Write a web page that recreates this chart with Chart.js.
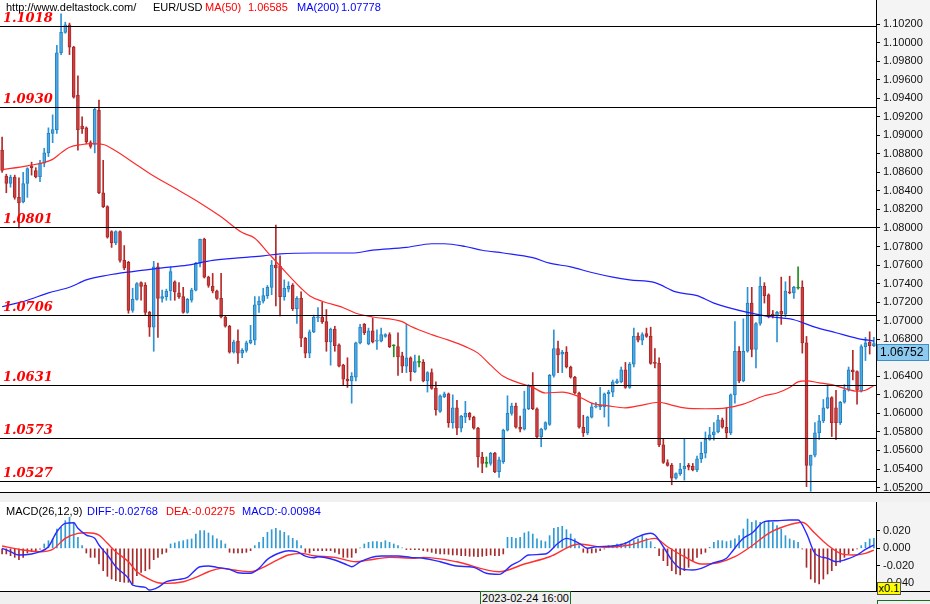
<!DOCTYPE html>
<html><head><meta charset="utf-8">
<script src="https://cdn.jsdelivr.net/npm/chart.js@4.4.1/dist/chart.umd.min.js"></script>
<style>
html,body{margin:0;padding:0;background:#f0f0f0;width:930px;height:604px;overflow:hidden;position:relative;font-family:"Liberation Sans",Arial,sans-serif;}
canvas{position:absolute;left:0;}
#main{top:0;}
#macd{top:502px;}
.t{position:absolute;font-size:11px;line-height:13px;white-space:nowrap;}
.hl{position:absolute;left:0;width:930px;height:1px;background:#000;}
</style></head><body>
<canvas id="main" width="930" height="492"></canvas>
<canvas id="macd" width="930" height="89"></canvas>
<div class="hl" style="top:492px"></div>
<div class="hl" style="top:591px"></div>
<div class="t" style="left:6px;top:1px;color:#000">http://www.deltastock.com/</div>
<div class="t" style="left:153px;top:1px;color:#000">EUR/USD</div>
<div class="t" style="left:205px;top:1px;color:#ff0000">MA(50)</div>
<div class="t" style="left:248px;top:1px;color:#ff0000">1.06585</div>
<div class="t" style="left:297px;top:1px;color:#0000ff">MA(200)</div>
<div class="t" style="left:341px;top:1px;color:#0000ff">1.07778</div>
<div class="t" style="left:6px;top:505px;color:#000">MACD(26,12,9)</div>
<div class="t" style="left:87px;top:505px;color:#0000ff">DIFF:-0.02768</div>
<div class="t" style="left:166px;top:505px;color:#ff0000">DEA:-0.02275</div>
<div class="t" style="left:242px;top:505px;color:#0000ff">MACD:-0.00984</div>
<div class="t" style="left:480px;top:591px;width:89px;height:14px;border:1px solid #1d6b1d;background:#f0f0f0;text-align:center;line-height:13px;color:#000">2023-02-24 16:00</div>
<div class="t" style="left:877px;top:582px;width:22px;height:11px;border:1px solid #555;background:#ffff00;text-align:center;line-height:11px;color:#000">x0.1</div>
<div class="t" style="left:877px;top:600px;width:52px;height:10px;border:1px solid #1d6b1d;background:#f0f0f0;"></div>
<script>
// ---- candles (EUR/USD, H4) ----
const opens = [1.0884,1.0856,1.0848,1.0855,1.0833,1.0828,1.0848,1.0867,1.0862,1.0855,1.0870,1.0881,1.0902,1.0906,1.0989,1.1011,1.1019,1.0995,1.0943,1.0910,1.0908,1.0892,1.0890,1.0927,1.0838,1.0823,1.0796,1.0784,1.0796,1.0765,1.0763,1.0711,1.0723,1.0741,1.0738,1.0709,1.0693,1.0758,1.0724,1.0726,1.0732,1.0742,1.0730,1.0726,1.0709,1.0722,1.0733,1.0762,1.0788,1.0747,1.0737,1.0732,1.0724,1.0704,1.0694,1.0666,1.0678,1.0665,1.0668,1.0676,1.0679,1.0717,1.0721,1.0727,1.0736,1.0760,1.0759,1.0726,1.0734,1.0738,1.0713,1.0724,1.0681,1.0665,1.0688,1.0703,1.0704,1.0699,1.0677,1.0691,1.0674,1.0652,1.0637,1.0635,1.0639,1.0676,1.0696,1.0675,1.0689,1.0678,1.0678,1.0683,1.0685,1.0673,1.0672,1.0662,1.0651,1.0660,1.0645,1.0655,1.0655,1.0635,1.0644,1.0627,1.0602,1.0618,1.0621,1.0590,1.0606,1.0584,1.0596,1.0600,1.0596,1.0584,1.0553,1.0546,1.0546,1.0557,1.0537,1.0548,1.0582,1.0600,1.0608,1.0585,1.0583,1.0605,1.0630,1.0605,1.0575,1.0583,1.0588,1.0641,1.0670,1.0664,1.0666,1.0650,1.0639,1.0622,1.0585,1.0579,1.0596,1.0607,1.0607,1.0607,1.0621,1.0623,1.0633,1.0634,1.0647,1.0628,1.0653,1.0683,1.0679,1.0686,1.0683,1.0655,1.0654,1.0566,1.0547,1.0544,1.0530,1.0535,1.0540,1.0544,1.0543,1.0539,1.0551,1.0557,1.0572,1.0577,1.0580,1.0593,1.0585,1.0579,1.0620,1.0667,1.0635,1.0667,1.0719,1.0669,1.0697,1.0737,1.0728,1.0707,1.0705,1.0710,1.0707,1.0731,1.0730,1.0735,1.0736,1.0676,1.0544,1.0555,1.0579,1.0592,1.0606,1.0617,1.0606,1.0590,1.0612,1.0625,1.0647,1.0645,1.0624,1.0672,1.0677,1.0673];
const highs = [1.0898,1.0858,1.0857,1.0857,1.0854,1.0860,1.0865,1.0871,1.0865,1.0873,1.0886,1.0908,1.0922,1.0997,1.1031,1.1022,1.1021,1.0996,1.0964,1.0920,1.0909,1.0894,1.0929,1.0938,1.0873,1.0824,1.0797,1.0797,1.0797,1.0781,1.0764,1.0735,1.0741,1.0742,1.0741,1.0710,1.0764,1.0762,1.0733,1.0734,1.0758,1.0743,1.0741,1.0736,1.0724,1.0735,1.0763,1.0788,1.0789,1.0748,1.0751,1.0733,1.0751,1.0705,1.0695,1.0679,1.0690,1.0670,1.0678,1.0695,1.0726,1.0726,1.0735,1.0738,1.0765,1.0803,1.0770,1.0744,1.0742,1.0740,1.0726,1.0731,1.0682,1.0690,1.0706,1.0714,1.0720,1.0712,1.0692,1.0694,1.0675,1.0653,1.0660,1.0644,1.0677,1.0696,1.0697,1.0692,1.0703,1.0690,1.0692,1.0686,1.0687,1.0674,1.0687,1.0666,1.0696,1.0661,1.0663,1.0662,1.0658,1.0645,1.0648,1.0634,1.0620,1.0623,1.0622,1.0620,1.0614,1.0598,1.0613,1.0601,1.0597,1.0585,1.0558,1.0553,1.0558,1.0558,1.0553,1.0583,1.0619,1.0611,1.0611,1.0597,1.0624,1.0631,1.0644,1.0606,1.0584,1.0591,1.0642,1.0690,1.0678,1.0668,1.0672,1.0651,1.0640,1.0623,1.0598,1.0597,1.0611,1.0612,1.0628,1.0622,1.0625,1.0636,1.0637,1.0650,1.0655,1.0655,1.0692,1.0687,1.0687,1.0692,1.0693,1.0670,1.0660,1.0573,1.0550,1.0546,1.0536,1.0546,1.0573,1.0546,1.0546,1.0554,1.0569,1.0580,1.0585,1.0590,1.0598,1.0595,1.0606,1.0621,1.0699,1.0672,1.0702,1.0736,1.0736,1.0698,1.0747,1.0741,1.0729,1.0711,1.0710,1.0747,1.0742,1.0748,1.0737,1.0758,1.0743,1.0683,1.0555,1.0590,1.0598,1.0615,1.0631,1.0618,1.0625,1.0613,1.0631,1.0650,1.0668,1.0646,1.0674,1.0682,1.0688,1.0682];
const lows = [1.0860,1.0838,1.0844,1.0831,1.0800,1.0827,1.0833,1.0857,1.0854,1.0850,1.0866,1.0877,1.0892,1.0902,1.0987,1.1010,1.0987,1.0940,1.0884,1.0902,1.0891,1.0886,1.0881,1.0837,1.0822,1.0789,1.0779,1.0782,1.0763,1.0755,1.0708,1.0709,1.0722,1.0722,1.0706,1.0683,1.0667,1.0682,1.0720,1.0722,1.0722,1.0722,1.0724,1.0708,1.0708,1.0720,1.0732,1.0758,1.0746,1.0736,1.0730,1.0723,1.0703,1.0693,1.0665,1.0665,1.0654,1.0660,1.0666,1.0675,1.0674,1.0709,1.0719,1.0724,1.0728,1.0716,1.0705,1.0722,1.0731,1.0711,1.0697,1.0672,1.0660,1.0660,1.0687,1.0699,1.0697,1.0667,1.0652,1.0667,1.0650,1.0631,1.0628,1.0611,1.0635,1.0675,1.0685,1.0674,1.0676,1.0669,1.0677,1.0682,1.0671,1.0661,1.0641,1.0644,1.0644,1.0635,1.0644,1.0650,1.0634,1.0623,1.0626,1.0598,1.0601,1.0617,1.0585,1.0584,1.0577,1.0580,1.0590,1.0593,1.0583,1.0542,1.0536,1.0542,1.0544,1.0536,1.0531,1.0546,1.0581,1.0598,1.0584,1.0580,1.0582,1.0604,1.0604,1.0573,1.0564,1.0582,1.0587,1.0639,1.0644,1.0644,1.0649,1.0638,1.0621,1.0584,1.0575,1.0577,1.0595,1.0606,1.0604,1.0596,1.0586,1.0618,1.0632,1.0633,1.0627,1.0627,1.0650,1.0677,1.0674,1.0682,1.0653,1.0649,1.0564,1.0546,1.0543,1.0523,1.0529,1.0533,1.0528,1.0539,1.0538,1.0537,1.0547,1.0552,1.0571,1.0571,1.0579,1.0584,1.0573,1.0577,1.0611,1.0633,1.0634,1.0666,1.0661,1.0649,1.0695,1.0719,1.0703,1.0703,1.0677,1.0696,1.0704,1.0729,1.0724,1.0734,1.0665,1.0521,1.0516,1.0553,1.0572,1.0590,1.0605,1.0575,1.0572,1.0588,1.0611,1.0624,1.0636,1.0610,1.0623,1.0657,1.0664,1.0672];
const closes = [1.0862,1.0848,1.0855,1.0833,1.0827,1.0848,1.0864,1.0865,1.0855,1.0870,1.0881,1.0902,1.0906,1.0989,1.1011,1.1019,1.0995,1.0941,1.0906,1.0907,1.0893,1.0888,1.0928,1.0838,1.0823,1.0790,1.0784,1.0796,1.0765,1.0757,1.0711,1.0723,1.0740,1.0737,1.0709,1.0693,1.0758,1.0724,1.0726,1.0732,1.0753,1.0731,1.0726,1.0709,1.0723,1.0733,1.0762,1.0788,1.0747,1.0738,1.0732,1.0724,1.0704,1.0694,1.0666,1.0677,1.0665,1.0668,1.0676,1.0679,1.0717,1.0721,1.0727,1.0736,1.0760,1.0757,1.0726,1.0735,1.0737,1.0713,1.0724,1.0681,1.0665,1.0688,1.0704,1.0704,1.0699,1.0677,1.0691,1.0673,1.0651,1.0637,1.0635,1.0640,1.0676,1.0693,1.0687,1.0689,1.0677,1.0679,1.0685,1.0685,1.0672,1.0673,1.0661,1.0651,1.0660,1.0645,1.0656,1.0655,1.0635,1.0644,1.0627,1.0604,1.0619,1.0621,1.0590,1.0606,1.0584,1.0597,1.0600,1.0596,1.0584,1.0553,1.0546,1.0546,1.0557,1.0537,1.0550,1.0582,1.0600,1.0608,1.0585,1.0583,1.0605,1.0630,1.0605,1.0575,1.0583,1.0590,1.0641,1.0670,1.0663,1.0666,1.0650,1.0639,1.0622,1.0585,1.0579,1.0596,1.0607,1.0608,1.0609,1.0621,1.0623,1.0634,1.0635,1.0647,1.0628,1.0653,1.0683,1.0679,1.0685,1.0683,1.0654,1.0654,1.0566,1.0547,1.0544,1.0530,1.0535,1.0540,1.0543,1.0542,1.0539,1.0551,1.0557,1.0572,1.0577,1.0580,1.0593,1.0585,1.0579,1.0620,1.0667,1.0635,1.0667,1.0719,1.0669,1.0697,1.0737,1.0727,1.0704,1.0705,1.0709,1.0707,1.0732,1.0730,1.0736,1.0735,1.0676,1.0544,1.0555,1.0579,1.0592,1.0606,1.0617,1.0590,1.0590,1.0612,1.0625,1.0647,1.0645,1.0625,1.0672,1.0676,1.0673,1.06752];

// ---- moving averages (read at sample bars) ----
const ma50Idx = [0,6,12,14,16,19,21,24,27,32,36,41,47,52,57,60,63,66,71,73,76,81,84,88,95,97,102,106,110,113,116,119,122,126,129,133,137,140,144,148,151,156,159,162,167,172,176,181,184,187,189,191,194,197,200,203,205,207];
const ma50Val = [1.0863,1.0867,1.0874,1.0881,1.0887,1.0890,1.0891,1.0890,1.0883,1.0868,1.0856,1.0843,1.0827,1.0812,1.0795,1.0789,1.0774,1.0759,1.0735,1.0727,1.0721,1.0714,1.0708,1.0704,1.0699,1.0694,1.0685,1.0679,1.0672,1.0665,1.0652,1.0640,1.0634,1.0628,1.0622,1.0623,1.0618,1.0611,1.0608,1.0606,1.0608,1.0612,1.0609,1.0606,1.0605,1.0606,1.0610,1.0619,1.0622,1.0628,1.0634,1.0635,1.0633,1.0631,1.0627,1.0624,1.0625,1.0630];
const ma200Idx = [0,6,11,16,20,25,31,38,44,50,57,62,66,74,83,88,96,102,105,110,114,119,126,130,135,140,145,149,155,160,165,169,177,183,188,193,198,203,207];
const ma200Val = [1.0715,1.0722,1.0730,1.0736,1.0744,1.0749,1.0753,1.0757,1.0760,1.0765,1.0768,1.0770,1.0772,1.0773,1.0773,1.0776,1.0779,1.0783,1.0783,1.0780,1.0776,1.0773,1.0768,1.0762,1.0758,1.0752,1.0747,1.0744,1.0741,1.0731,1.0727,1.0719,1.0709,1.0704,1.0701,1.0693,1.0687,1.0681,1.0678];

// ---- support / resistance levels ----
const levels = [1.1018,1.0930,1.0801,1.0706,1.0631,1.0573,1.0527];
const lastPrice = 1.06752;
const priceTicks = [1.102,1.100,1.098,1.096,1.094,1.092,1.090,1.088,1.086,1.084,1.082,1.080,1.078,1.076,1.074,1.072,1.070,1.068,1.066,1.064,1.062,1.060,1.058,1.056,1.054,1.052];

// ---- MACD(26,12,9) ----
const macdHist = [-0.0065,-0.0065,-0.0085,-0.0104,-0.0131,-0.0104,-0.0054,-0.0038,-0.0038,-0.0010,0.0050,0.0088,0.0108,0.0223,0.0242,0.0319,0.0358,0.0300,0.0127,0.0031,-0.0054,-0.0104,-0.0104,-0.0181,-0.0258,-0.0323,-0.0354,-0.0373,-0.0384,-0.0392,-0.0392,-0.0411,-0.0315,-0.0277,-0.0258,-0.0238,-0.0131,-0.0104,-0.0065,-0.0046,0.0050,0.0062,0.0077,0.0088,0.0100,0.0108,0.0165,0.0204,0.0204,0.0177,0.0146,0.0108,0.0088,0.0050,-0.0046,-0.0054,-0.0054,-0.0054,-0.0046,-0.0027,0.0031,0.0069,0.0127,0.0185,0.0215,0.0231,0.0204,0.0185,0.0146,0.0115,0.0088,0.0031,-0.0046,-0.0054,-0.0027,-0.0027,-0.0027,-0.0027,-0.0027,-0.0046,-0.0065,-0.0104,-0.0104,-0.0104,-0.0054,0.0005,0.0050,0.0069,0.0077,0.0077,0.0069,0.0088,0.0069,0.0050,0.0031,0.0005,-0.0015,-0.0015,-0.0015,-0.0015,-0.0027,-0.0035,-0.0046,-0.0058,-0.0065,-0.0065,-0.0069,-0.0077,-0.0077,-0.0085,-0.0085,-0.0092,-0.0092,-0.0096,-0.0092,-0.0085,-0.0077,-0.0085,-0.0085,-0.0065,0.0127,0.0127,0.0115,0.0127,0.0177,0.0192,0.0165,0.0108,0.0088,0.0077,0.0146,0.0231,0.0242,0.0254,0.0215,0.0165,0.0108,0.0031,-0.0046,-0.0054,-0.0054,-0.0046,-0.0027,-0.0008,0.0031,0.0031,0.0050,0.0050,0.0069,0.0077,0.0088,0.0108,0.0146,0.0115,0.0077,0.0012,-0.0085,-0.0142,-0.0200,-0.0258,-0.0296,-0.0308,-0.0258,-0.0219,-0.0142,-0.0104,-0.0065,-0.0046,0.0012,0.0069,0.0088,0.0088,0.0077,0.0088,0.0108,0.0146,0.0223,0.0338,0.0300,0.0319,0.0300,0.0300,0.0319,0.0300,0.0261,0.0223,0.0146,0.0108,0.0088,0.0069,-0.0008,-0.0219,-0.0354,-0.0392,-0.0411,-0.0354,-0.0296,-0.0258,-0.0200,-0.0161,-0.0104,-0.0065,-0.0027,-0.0008,0.0031,0.0069,0.0108,0.0115];
const diffIdx = [0,2,4,7,9,11,13,15,17,18,20,22,23,25,27,30,31,34,35,37,39,42,44,47,49,51,54,56,59,61,63,66,68,70,72,74,75,79,82,83,85,87,90,94,97,100,104,108,112,115,118,121,123,125,129,132,134,137,139,141,145,148,151,154,155,157,159,161,164,166,169,172,173,176,178,181,184,187,189,191,193,196,198,200,203,205,207];
const diffVal = [0,-0.0039,-0.0077,-0.0066,-0.0039,0.0018,0.0191,0.0288,0.0295,0.0231,0.0153,0.0115,0.0038,-0.0077,-0.0212,-0.0346,-0.0424,-0.0450,-0.0481,-0.0450,-0.0385,-0.0358,-0.0334,-0.0212,-0.0204,-0.0219,-0.0242,-0.0281,-0.0288,-0.0231,-0.0127,-0.0051,-0.0028,-0.0039,-0.0089,-0.0108,-0.0097,-0.0135,-0.0193,-0.0212,-0.0155,-0.0115,-0.0089,-0.0089,-0.0104,-0.0115,-0.0155,-0.0204,-0.0219,-0.0288,-0.0300,-0.0193,-0.0143,-0.0077,-0.0066,0.0058,0.0115,0.0058,0,0.0018,0.0027,0.0058,0.0134,0.0173,0.0153,0.0018,-0.0135,-0.0231,-0.0250,-0.0231,-0.0166,-0.0115,-0.0058,0.0115,0.0173,0.0307,0.0318,0.0326,0.0326,0.0173,-0.0058,-0.0115,-0.0155,-0.0135,-0.0077,-0.0012,0.0038];
const deaIdx = [0,4,9,12,15,18,20,23,25,27,30,32,35,37,39,43,46,49,52,55,59,62,65,68,71,74,79,84,87,92,98,100,108,118,124,130,137,143,149,155,158,162,166,170,174,178,182,186,190,193,196,199,202,205,207];
const deaVal = [0.0027,-0.0012,-0.0039,-0.0012,0.0115,0.0173,0.0180,0.0153,0.0058,-0.0039,-0.0155,-0.0270,-0.0358,-0.0397,-0.0404,-0.0385,-0.0334,-0.0270,-0.0231,-0.0250,-0.0270,-0.0219,-0.0143,-0.0077,-0.0058,-0.0085,-0.0104,-0.0155,-0.0135,-0.0104,-0.0115,-0.0104,-0.0155,-0.0270,-0.0181,-0.0097,0.0050,0.0012,0.0038,0.0115,0.0018,-0.0097,-0.0181,-0.0166,-0.0097,0.0027,0.0173,0.0257,0.0300,0.0173,0.0038,-0.0058,-0.0077,-0.0058,-0.0020];
const macdTicks = [0.02,0,-0.02,-0.04];

// ---------------------------------------------------------------
const N = opens.length;
const labels = opens.map((_, k) => String(k));
const sparse = (idx, vals) => { const a = new Array(N).fill(null); idx.forEach((k, j) => { a[k] = vals[j]; }); return a; };
const dir = k => closes[k] > opens[k] ? 'up' : (closes[k] < opens[k] ? 'down' : 'flat');
const bodyFill = {up:'#4ea8e2', down:'#cf3f3f', flat:'#1e8e1e'};
const bodyEdge = {up:'#2282c2', down:'#a82828', flat:'#1e8e1e'};
const wickCol  = {up:'#2d93d5', down:'#b42a2a', flat:'#1e8e1e'};

const tickFont = {family:'"Liberation Sans", Arial, sans-serif', size:11};
const fitAxis = s => { s.width = 54; s.paddingTop = 0; s.paddingBottom = 0; };

const mainDeco = {
  id: 'mainDeco',
  beforeDraw(c) {
    const {ctx, chartArea: a} = c;
    ctx.save();
    ctx.fillStyle = '#f4f4f4'; ctx.fillRect(0, 0, c.width, c.height);
    ctx.fillStyle = '#ffffff'; ctx.fillRect(a.left, a.top, a.right - a.left, a.bottom - a.top);
    ctx.restore();
  },
  afterDatasetsDraw(c) {
    const {ctx, chartArea: a, scales: {y}} = c;
    ctx.save();
    ctx.strokeStyle = '#000'; ctx.lineWidth = 1;
    ctx.font = 'bold italic 13px "DejaVu Serif", "Liberation Serif", serif';
    ctx.textBaseline = 'alphabetic';
    levels.forEach(v => {
      const py = Math.round(y.getPixelForValue(v)) + 0.5;
      ctx.beginPath(); ctx.moveTo(a.left, py); ctx.lineTo(a.right, py); ctx.stroke();
      ctx.fillStyle = '#ff0000';
      ctx.fillText(v.toFixed(4), 3, py - 5);
    });
    ctx.restore();
  },
  afterDraw(c) {
    const {ctx, scales: {y}} = c;
    const py = Math.round(y.getPixelForValue(lastPrice));
    ctx.save();
    ctx.fillStyle = '#8ccbef'; ctx.strokeStyle = '#3d8fc6'; ctx.lineWidth = 1;
    ctx.fillRect(877, py, 52, 17); ctx.strokeRect(877.5, py + 0.5, 51, 16);
    ctx.fillStyle = '#000'; ctx.font = '12px "Liberation Sans", Arial, sans-serif';
    ctx.textBaseline = 'middle'; ctx.fillText(lastPrice.toFixed(5), 880, py + 9);
    ctx.restore();
  }
};

new Chart(document.getElementById('main'), {
  type: 'bar',
  data: {
    labels,
    datasets: [
      {type:'line', label:'MA(50)', data: sparse(ma50Idx, ma50Val), borderColor:'#ff2b2b', borderWidth:1.2, pointRadius:0, spanGaps:true, cubicInterpolationMode:'monotone', order:0},
      {type:'line', label:'MA(200)', data: sparse(ma200Idx, ma200Val), borderColor:'#1f1fff', borderWidth:1.2, pointRadius:0, spanGaps:true, cubicInterpolationMode:'monotone', order:0},
      {label:'body', data: opens.map((o, k) => [o, closes[k]]), backgroundColor: opens.map((_, k) => bodyFill[dir(k)]), borderColor: opens.map((_, k) => bodyEdge[dir(k)]), borderWidth:1, borderSkipped:false, barThickness:3, minBarLength:1, grouped:false, order:1},
      {label:'wick', data: lows.map((l, k) => [l, highs[k]]), backgroundColor: opens.map((_, k) => wickCol[dir(k)]), borderWidth:0, barThickness:1, grouped:false, order:2}
    ]
  },
  options: {
    responsive:false, animation:false, devicePixelRatio:1, events:[],
    layout:{padding:0, autoPadding:false},
    plugins:{legend:{display:false}, tooltip:{enabled:false}},
    scales: {
      x: {display:false, offset:true},
      y: {
        position:'right', min:1.05152, max:1.10459,
        afterFit: fitAxis,
        afterBuildTicks(s) { s.ticks = priceTicks.map(v => ({value:v})); },
        ticks: {callback: v => Number(v).toFixed(5), font: tickFont, color:'#111', autoSkip:false, padding:3},
        grid: {drawOnChartArea:false, tickLength:4, color:'#000'},
        border: {display:true, color:'#000'}
      }
    }
  },
  plugins: [mainDeco]
});

const macdDeco = {
  id: 'macdDeco',
  beforeDraw(c) {
    const {ctx, chartArea: a} = c;
    ctx.save();
    ctx.fillStyle = '#f4f4f4'; ctx.fillRect(0, 0, c.width, c.height);
    ctx.fillStyle = '#ffffff'; ctx.fillRect(a.left, a.top, a.right - a.left, a.bottom - a.top);
    ctx.restore();
  }
};

new Chart(document.getElementById('macd'), {
  type: 'bar',
  data: {
    labels,
    datasets: [
      {type:'line', label:'DIFF', data: sparse(diffIdx, diffVal), borderColor:'#2a2aff', borderWidth:1.4, pointRadius:0, spanGaps:true, cubicInterpolationMode:'monotone', order:0},
      {type:'line', label:'DEA', data: sparse(deaIdx, deaVal), borderColor:'#ff3030', borderWidth:1.4, pointRadius:0, spanGaps:true, cubicInterpolationMode:'monotone', order:0},
      {label:'MACD', data: macdHist, backgroundColor: macdHist.map(v => v >= 0 ? '#2f9ad4' : '#a52a2a'), borderWidth:0, barThickness:1, grouped:false, order:1}
    ]
  },
  options: {
    responsive:false, animation:false, devicePixelRatio:1, events:[],
    layout:{padding:0, autoPadding:false},
    plugins:{legend:{display:false}, tooltip:{enabled:false}},
    scales: {
      x: {display:false, offset:true},
      y: {
        position:'right', min:-0.0492, max:0.0534,
        afterFit: fitAxis,
        afterBuildTicks(s) { s.ticks = macdTicks.map(v => ({value:v})); },
        ticks: {callback: v => Number(v).toFixed(3), font: tickFont, color:'#111', autoSkip:false, padding:3},
        grid: {drawOnChartArea:false, tickLength:4, color:'#000'},
        border: {display:true, color:'#000'}
      }
    }
  },
  plugins: [macdDeco]
});
</script>
</body></html>
